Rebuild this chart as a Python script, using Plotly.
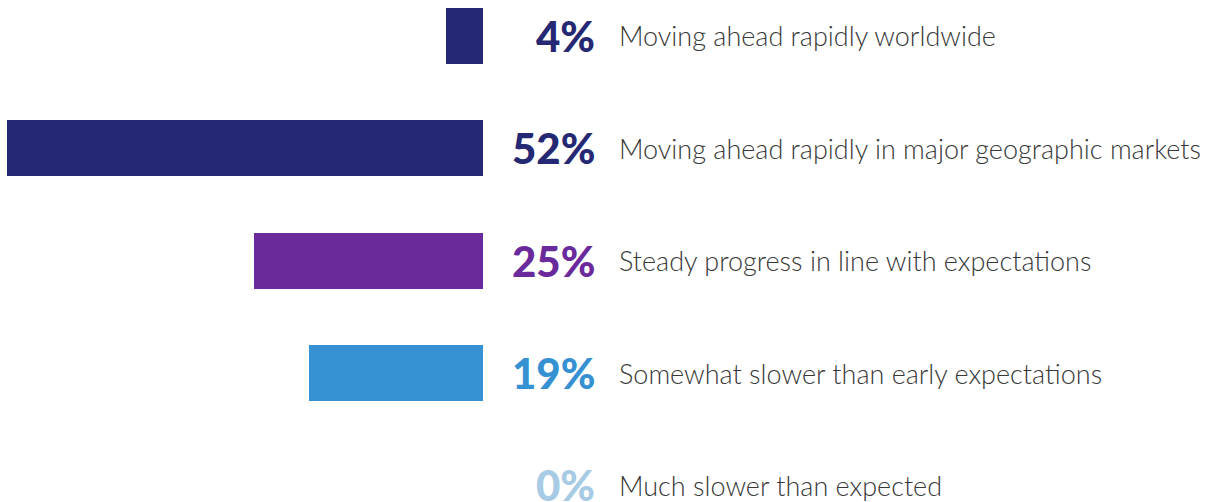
import plotly.graph_objects as go

categories = [
    "Moving ahead rapidly worldwide",
    "Moving ahead rapidly in major geographic markets",
    "Steady progress in line with expectations",
    "Somewhat slower than early expectations",
    "Much slower than expected",
]
values = [4, 52, 25, 19, 0]
colors = ["#252872", "#252872", "#6A2A9C", "#3591D1", "#A7CBE4"]

W, H = 1229, 502

fig = go.Figure()
fig.add_trace(go.Bar(
    x=values, y=categories, orientation="h",
    marker=dict(color=colors, line=dict(width=0)),
    width=0.5, hoverinfo="skip", showlegend=False,
))

# percentage + description labels to the right of the bars
for cat, v, c in zip(categories, values, colors):
    fig.add_annotation(
        x=597 / W, xref="paper", y=cat, yref="y",
        text=f"{v}%", showarrow=False, xanchor="right", yanchor="middle",
        font=dict(family="Lato", size=42, color=c, weight=900),
    )
    fig.add_annotation(
        x=617 / W, xref="paper", y=cat, yref="y",
        text=cat, showarrow=False, xanchor="left", yanchor="middle",
        font=dict(family="Lato", size=27, color="#383838", weight=300),
    )

fig.update_layout(
    width=W, height=H,
    margin=dict(l=0, r=0, t=0, b=0),
    plot_bgcolor="white", paper_bgcolor="white",
    xaxis=dict(domain=[0, 483 / W], range=[52.77, 0], visible=False, fixedrange=True),
    yaxis=dict(categoryorder="array", categoryarray=categories,
               range=[4.147, -0.32], visible=False, fixedrange=True),
    bargap=0,
)

fig.write_html("out.html", config={"displayModeBar": False},
               post_script="document.body.style.margin='0';")
